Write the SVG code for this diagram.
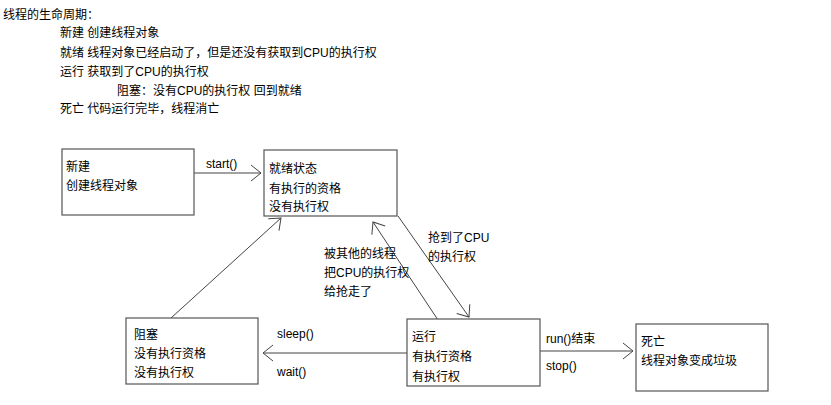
<svg xmlns="http://www.w3.org/2000/svg" width="831" height="405" viewBox="0 0 831 405">
<defs>
<style>
text{font-family:"Liberation Sans","Noto Sans CJK SC",sans-serif;font-size:12px;fill:#000;dominant-baseline:central}
.box{fill:#fff;stroke:#555;stroke-width:1.2}
.edge{fill:none;stroke:#444;stroke-width:1;marker-end:url(#arr)}
</style>
<marker id="arr" markerUnits="userSpaceOnUse" markerWidth="20" markerHeight="20" refX="0" refY="0" viewBox="-12 -10 14 20" orient="auto">
<path d="M-10,-8 L0,0 L-10,8" fill="none" stroke="#444" stroke-width="1"/>
</marker>
</defs>
<rect width="831" height="405" fill="#fff"/>
<g id="header">
<text x="3" y="15">线程的生命周期：</text>
<text x="60" y="33">新建 创建线程对象</text>
<text x="60" y="53">就绪 线程对象已经启动了，但是还没有获取到CPU的执行权</text>
<text x="60" y="72">运行 获取到了CPU的执行权</text>
<text x="117" y="91">阻塞：没有CPU的执行权 回到就绪</text>
<text x="60" y="109">死亡 代码运行完毕，线程消亡</text>
</g>
<g id="connectors">
<line class="edge" x1="194" y1="173" x2="261" y2="173"/>
<line class="edge" x1="171" y1="318" x2="281" y2="218"/>
<line class="edge" x1="438" y1="320" x2="373" y2="222"/>
<line class="edge" x1="398" y1="216" x2="469" y2="317"/>
<line class="edge" x1="407" y1="353" x2="263" y2="353"/>
<line class="edge" x1="540" y1="351" x2="633" y2="351"/>
<text x="206" y="164">start()</text>
<text x="324" y="254">被其他的线程</text>
<text x="324" y="273">把CPU的执行权</text>
<text x="324" y="292">给抢走了</text>
<text x="428" y="238">抢到了CPU</text>
<text x="428" y="257">的执行权</text>
<text x="277" y="334">sleep()</text>
<text x="277" y="372">wait()</text>
<text x="546" y="339">run()结束</text>
<text x="546" y="366">stop()</text>
</g>
<g id="new">
<rect class="box" x="62" y="149" width="132" height="66"/>
<text x="66" y="167">新建</text>
<text x="66" y="186">创建线程对象</text>
</g>
<g id="ready">
<rect class="box" x="264" y="150" width="133" height="66"/>
<text x="269" y="169">就绪状态</text>
<text x="269" y="189">有执行的资格</text>
<text x="269" y="207">没有执行权</text>
</g>
<g id="blocked">
<rect class="box" x="126" y="318" width="132" height="66"/>
<text x="134" y="335">阻塞</text>
<text x="134" y="354">没有执行资格</text>
<text x="134" y="373">没有执行权</text>
</g>
<g id="running">
<rect class="box" x="407" y="319" width="133" height="67"/>
<text x="412" y="337">运行</text>
<text x="412" y="357">有执行资格</text>
<text x="412" y="377">有执行权</text>
</g>
<g id="dead">
<rect class="box" x="636" y="324" width="132" height="67"/>
<text x="641" y="342">死亡</text>
<text x="641" y="361">线程对象变成垃圾</text>
</g>
</svg>
